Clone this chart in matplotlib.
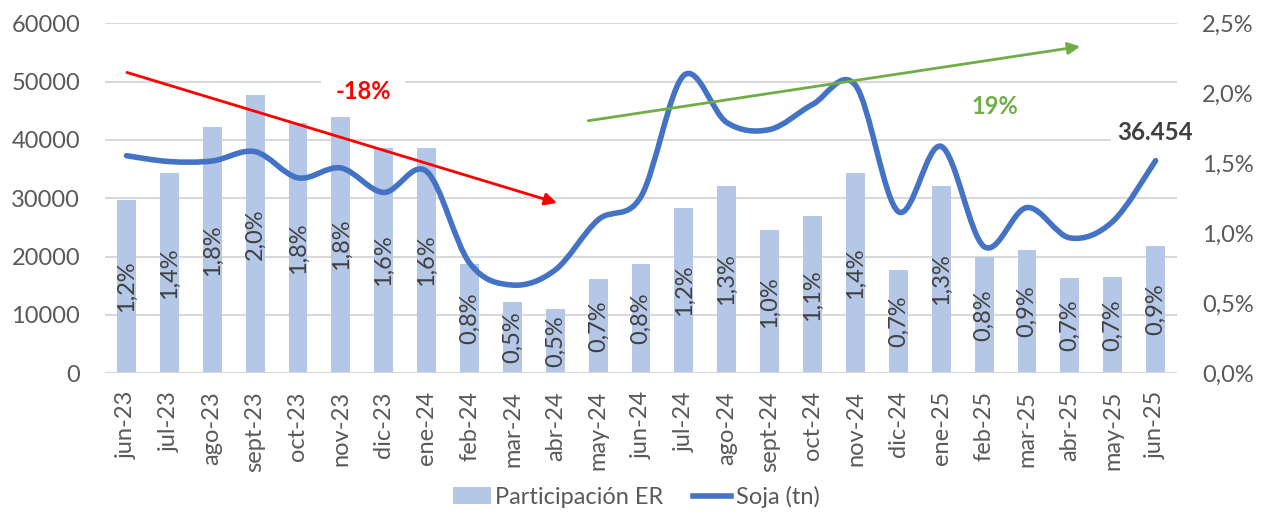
import matplotlib
matplotlib.use("Agg")
import matplotlib.pyplot as plt
from matplotlib.path import Path
from matplotlib.patches import PathPatch
from matplotlib.lines import Line2D
from matplotlib.patches import Patch
import numpy as np

plt.rcParams['font.family'] = ['Lato', 'DejaVu Sans']

months = ["jun-23", "jul-23", "ago-23", "sept-23", "oct-23", "nov-23", "dic-23", "ene-24",
          "feb-24", "mar-24", "abr-24", "may-24", "jun-24", "jul-24", "ago-24", "sept-24",
          "oct-24", "nov-24", "dic-24", "ene-25", "feb-25", "mar-25", "abr-25", "may-25", "jun-25"]
participacion_er = [1.24, 1.43, 1.76, 1.99, 1.79, 1.84, 1.61, 1.61, 0.78, 0.51, 0.46, 0.67, 0.78,
                    1.18, 1.34, 1.02, 1.12, 1.43, 0.74, 1.34, 0.83, 0.88, 0.68, 0.69, 0.91]
soja_tn = [37300, 36300, 36400, 38000, 33500, 35200, 31000, 34600, 18900, 15100, 17700, 26300,
           30300, 51100, 43000, 41800, 46100, 49400, 27700, 38900, 21700, 28400, 23200, 26000, 36454]
left_ticks = [0, 10000, 20000, 30000, 40000, 50000, 60000]
right_ticks = [0.0, 0.5, 1.0, 1.5, 2.0, 2.5]

BAR_C = "#B4C7E7"
LINE_C = "#4472C4"
TXT_C = "#595959"
GRID_C = "#D9D9D9"
FS = 17

fig = plt.figure(figsize=(12.7, 5.16), dpi=100)
ax = fig.add_axes([0.0827, 0.2771, 0.8441, 0.6774])
ax2 = ax.twinx()
ax.set_zorder(ax2.get_zorder() + 1)
ax.patch.set_visible(False)

x = np.arange(len(months))
n = len(months)

# bars on right axis
bars = ax2.bar(x, participacion_er, width=0.44, color=BAR_C, zorder=2)
ax2.bar_label(bars, labels=[f"{v:.1f}".replace('.', ',') + "%" for v in participacion_er],
              label_type='center', rotation=90, color="#404040", fontsize=FS)
ax2.set_ylim(0, 2.5)
ax.set_ylim(0, 60000)
ax.set_xlim(-0.5, n - 0.5)
ax2.set_xlim(-0.5, n - 0.5)

# gridlines (left axis values), drawn beneath bars
for t in left_ticks[1:]:
    ax2.axhline(t / 24000.0, color=GRID_C, lw=1.5, zorder=0)
ax2.axhline(0, color=GRID_C, lw=1.5, zorder=3)

# smooth line (Bezier through data points)
pts = np.column_stack([x, soja_tn]).astype(float)
verts = [tuple(pts[0])]
codes = [Path.MOVETO]
for i in range(n - 1):
    p0 = pts[i - 1] if i > 0 else pts[i]
    p1 = pts[i]
    p2 = pts[i + 1]
    p3 = pts[i + 2] if i + 2 < n else pts[i + 1]
    c1 = p1 + (p2 - p0) / 6.0
    c2 = p2 - (p3 - p1) / 6.0
    verts += [tuple(c1), tuple(c2), tuple(p2)]
    codes += [Path.CURVE4] * 3
ax.add_patch(PathPatch(Path(verts, codes), facecolor='none', edgecolor=LINE_C, lw=4,
                       capstyle='round', joinstyle='round', zorder=5))

# ticks and labels
ax.set_yticks(left_ticks)
ax.set_yticklabels([str(t) for t in left_ticks])
ax2.set_yticks(right_ticks)
ax2.set_yticklabels([f"{t:.1f}".replace('.', ',') + "%" for t in right_ticks])
ax.set_xticks(x)
ax.set_xticklabels(months, rotation=90)
ax.tick_params(axis='y', length=0, pad=18, labelsize=FS, labelcolor=TXT_C)
ax2.tick_params(axis='y', length=0, pad=18, labelsize=FS, labelcolor=TXT_C)
ax.tick_params(axis='x', length=0, pad=13, labelsize=FS, labelcolor=TXT_C)
ax2.tick_params(axis='x', length=0, labelbottom=False)
for a in (ax, ax2):
    for s in a.spines.values():
        s.set_visible(False)

# trend arrows
ax.annotate("", xy=(10.04, 29200), xytext=(0.01, 51600),
            arrowprops=dict(arrowstyle='-|>', color='#FF0000', lw=2, mutation_scale=18,
                            shrinkA=0, shrinkB=0), zorder=6)
ax.annotate("", xy=(22.24, 56050), xytext=(10.77, 43300),
            arrowprops=dict(arrowstyle='-|>', color='#70AD47', lw=2, mutation_scale=18,
                            shrinkA=0, shrinkB=0), zorder=6)

ax.text(5.52, 48300, "-18%", color='#FF0000', fontsize=FS, fontweight='bold',
        ha='center', va='center', zorder=7,
        bbox=dict(boxstyle='square,pad=0.6', fc='white', ec='none'))
ax.text(20.26, 45700, "19%", color='#70AD47', fontsize=FS, fontweight='bold',
        ha='center', va='center', zorder=7)
ax.text(23.99, 41300, f"{soja_tn[-1]:,}".replace(',', '.'), color='#404040', fontsize=FS + 0.4,
        fontweight='bold', ha='center', va='center', zorder=7,
        bbox=dict(boxstyle='square,pad=0.25', fc='white', ec='none'))

# legend
handles = [Patch(facecolor=BAR_C, edgecolor='none'),
           Line2D([0], [0], color=LINE_C, lw=4)]
fig.legend(handles, ["Participación ER", "Soja (tn)"], loc='center', bbox_to_anchor=(0.501, 0.037),
           ncol=2, frameon=False, fontsize=FS, handlelength=1.6, handletextpad=0.2,
           columnspacing=1.25, labelcolor=TXT_C)

fig.savefig("out.png", dpi=100)
